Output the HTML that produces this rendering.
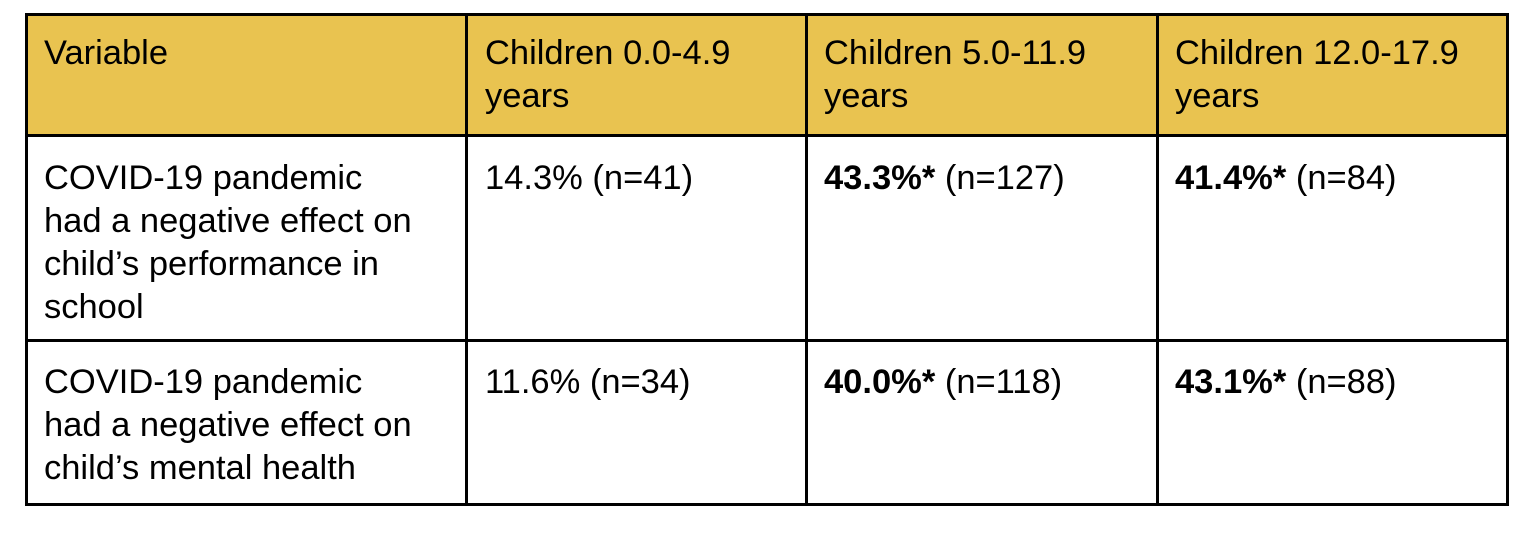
<!DOCTYPE html>
<html><head><meta charset="utf-8"><style>
html,body{margin:0;padding:0;background:#fff;}
body{width:1540px;height:540px;position:relative;overflow:hidden;font-family:"Liberation Sans",Arial,sans-serif;color:#000;}
.hdr{position:absolute;left:26px;top:14px;width:1481px;height:121px;background:#E9C350;}
.h{position:absolute;background:#000;height:3px;}
.v{position:absolute;background:#000;width:3px;}
.c{position:absolute;font-size:34.5px;line-height:43px;white-space:nowrap;}
b{font-weight:bold;}
</style></head><body>
<div class="hdr"></div>
<div class="h" style="left:25px;top:13px;width:1484px"></div>
<div class="h" style="left:25px;top:134px;width:1484px"></div>
<div class="h" style="left:25px;top:339px;width:1484px"></div>
<div class="h" style="left:25px;top:503px;width:1484px"></div>
<div class="v" style="left:25px;top:13px;height:493px"></div>
<div class="v" style="left:465px;top:13px;height:493px"></div>
<div class="v" style="left:805px;top:13px;height:493px"></div>
<div class="v" style="left:1156px;top:13px;height:493px"></div>
<div class="v" style="left:1506px;top:13px;height:493px"></div>

<div class="c" style="left:44px;top:32px">Variable</div>
<div class="c" style="left:485px;top:32px">Children 0.0-4.9<br>years</div>
<div class="c" style="left:824px;top:32px">Children 5.0-11.9<br>years</div>
<div class="c" style="left:1175px;top:32px">Children 12.0-17.9<br>years</div>

<div class="c" style="left:44px;top:157px">COVID-19 pandemic<br>had a negative effect on<br>child’s performance in<br>school</div>
<div class="c" style="left:485px;top:157px">14.3% (n=41)</div>
<div class="c" style="left:824px;top:157px"><b>43.3%*</b> (n=127)</div>
<div class="c" style="left:1175px;top:157px"><b>41.4%*</b> (n=84)</div>

<div class="c" style="left:44px;top:361px">COVID-19 pandemic<br>had a negative effect on<br>child’s mental health</div>
<div class="c" style="left:485px;top:361px">11.6% (n=34)</div>
<div class="c" style="left:824px;top:361px"><b>40.0%*</b> (n=118)</div>
<div class="c" style="left:1175px;top:361px"><b>43.1%*</b> (n=88)</div>
</body></html>
